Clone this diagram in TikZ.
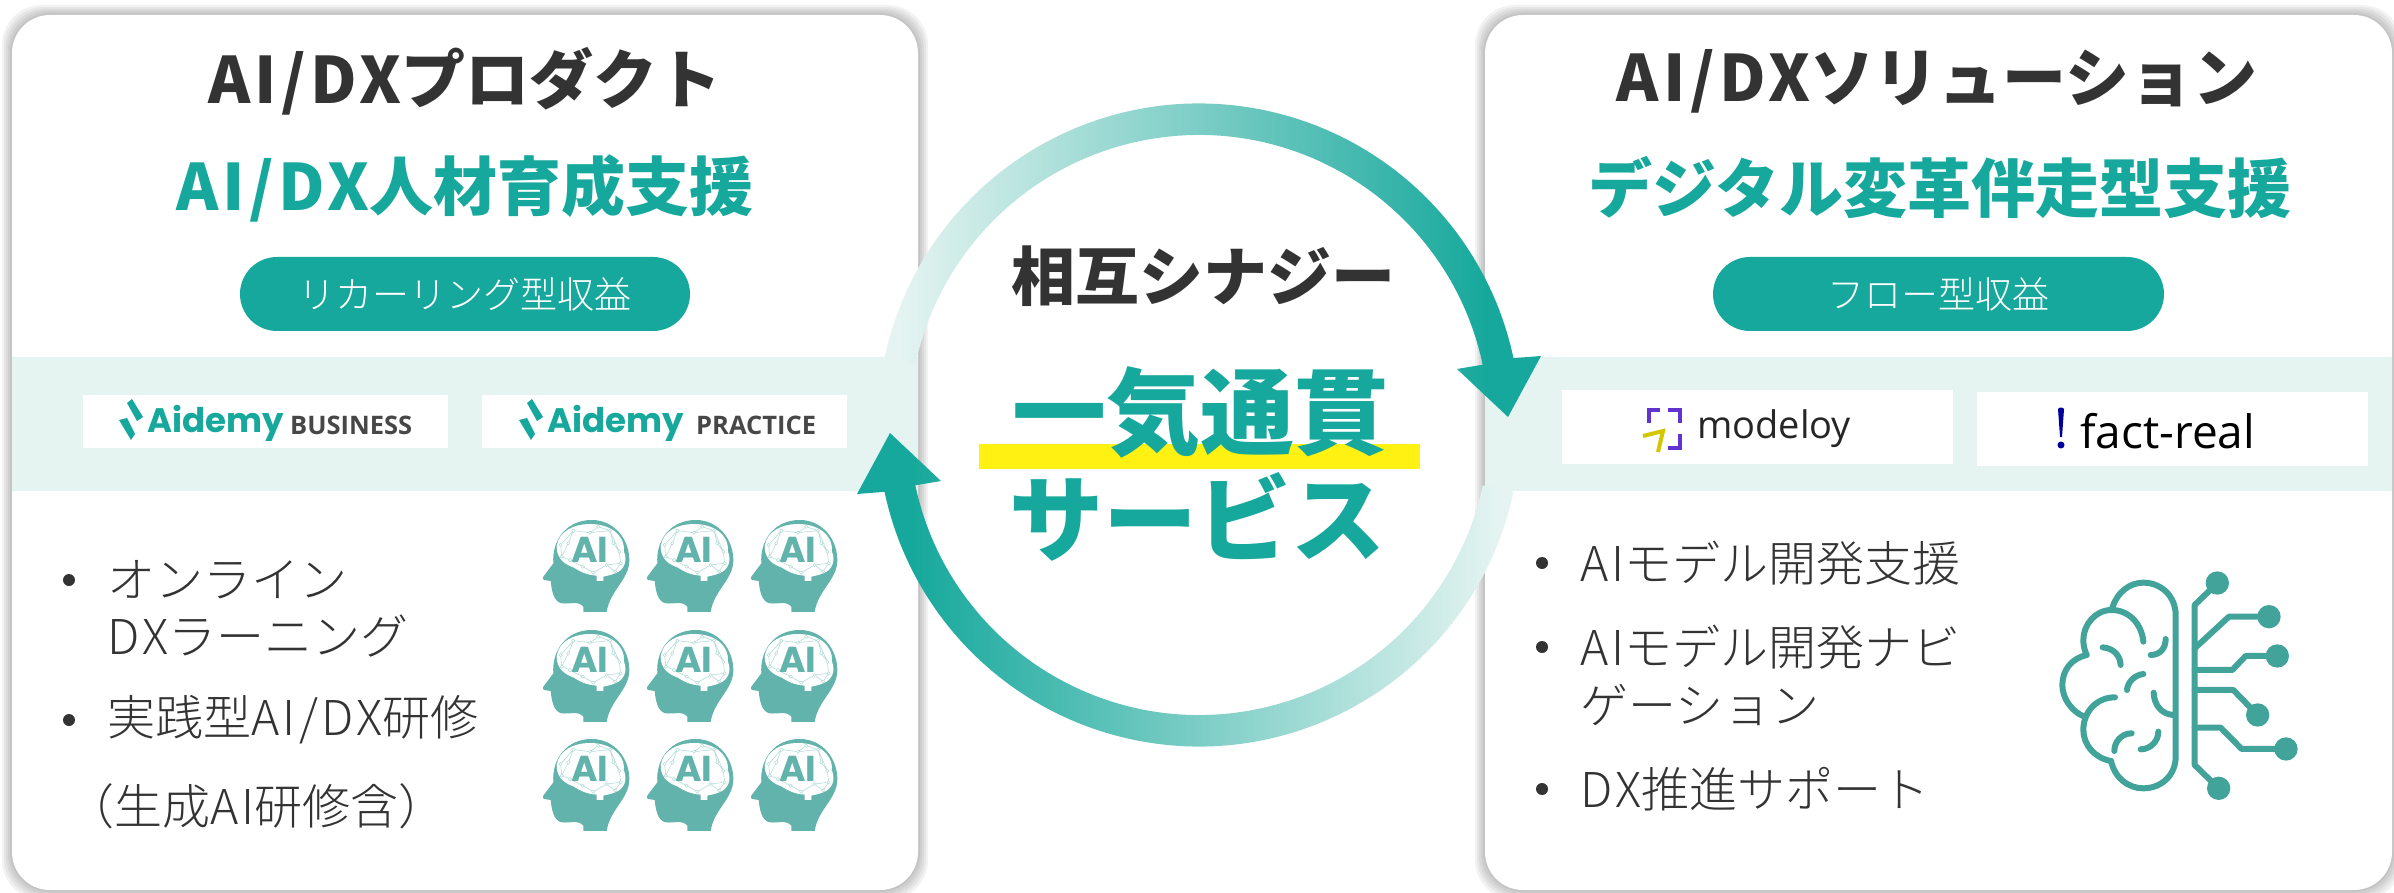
\documentclass[tikz,border=0pt]{standalone}
\usepackage{fontspec}
\setmainfont{Noto Sans CJK JP}
\newfontfamily\lightjp{Noto Sans CJK JP Light}
\newfontfamily\logofont{Poppins}
\newfontfamily\wordfont{Open Sans}
\definecolor{tealmain}{HTML}{16A89C}
\definecolor{tealband}{HTML}{E5F4F1}
\definecolor{tealhead}{HTML}{62B3AC}
\definecolor{tealnet}{HTML}{B5DCD8}
\definecolor{tealbrain}{HTML}{42A39A}
\definecolor{textdark}{HTML}{333333}
\definecolor{markyellow}{HTML}{FFF212}
\pgfdeclarehorizontalshading{ringright}{100bp}{color(0bp)=(tealband); color(26bp)=(tealband); color(71bp)=(tealmain); color(100bp)=(tealmain)}
\pgfdeclarehorizontalshading{ringleft}{100bp}{color(0bp)=(tealmain); color(29bp)=(tealmain); color(74bp)=(tealband); color(100bp)=(tealband)}
\newcommand{\widelat}[1]{{\addfontfeature{LetterSpace=7}#1}}
\tikzset{
    titletext/.style={inner sep=0pt, text=textdark, font=\fontsize{64}{70}\selectfont\bfseries},
    subtext/.style={inner sep=0pt, text=tealmain, font=\fontsize{64}{70}\selectfont\bfseries},
    bigtext/.style={inner sep=0pt, text=tealmain, font=\fontsize{94}{100}\selectfont\bfseries},
    listtext/.style={inner sep=0pt, anchor=west, text=textdark, font=\fontsize{48}{52}\selectfont\lightjp},
    pillbox/.style={fill=tealmain, rounded corners=37pt, minimum height=74pt, inner sep=0pt, text=white, font=\fontsize{37}{40}\selectfont\lightjp},
    logobox/.style={fill=white, inner sep=0pt},
    brainline/.style={tealbrain, line width=6pt, line cap=round, line join=round},
    aihead/.pic={
        \begin{scope}[x=0.3333pt, y=-0.3333pt]
            \fill[tealhead] (230,306) -- (160,306) -- (160,290) .. controls (145,272) and (120,283) .. (95,280) .. controls (70,275) and (65,240) .. (62,213) -- (42,210) .. controls (38,208) and (38,203) .. (40,200) -- (70,160) .. controls (65,90) and (110,30) .. (185,30) .. controls (255,30) and (298,90) .. (298,150) .. controls (298,210) and (240,240) .. (230,306) -- cycle;
            \fill[white] (80,110) .. controls (85,65) and (130,42) .. (180,42) .. controls (235,42) and (285,70) .. (282,125) .. controls (292,150) and (285,180) .. (255,190) .. controls (240,197) and (225,198) .. (220,200) -- (220,213) -- (200,213) -- (200,197) .. controls (170,195) and (150,185) .. (130,172) .. controls (110,165) and (80,150) .. (80,110) -- cycle;
            \draw[tealnet, line width=0.6pt] (95,140) -- (92,105) -- (130,62) -- (180,68) -- (240,62) -- (268,125) -- (272,160) -- (230,165) -- (190,188) -- (158,170) -- (120,150) -- cycle (130,62) -- (115,100) -- (95,140) (240,62) -- (250,100) -- (268,125) (180,68) -- (205,50) -- (240,62) (230,165) -- (255,185) -- (272,160);
            \foreach \p/\q in {95/140, 92/105, 130/62, 180/68, 240/62, 268/125, 272/160, 230/165, 190/188, 158/170, 120/150, 115/100, 250/100, 205/50, 255/185} {
                \draw[tealnet, fill=white, line width=0.5pt] (\p,\q) circle (5);
            }
            \node[inner sep=0pt, text=tealhead, font=\fontsize{36}{36}\selectfont\logofont\bfseries] at (180,120) {AI};
        \end{scope}
    }
}

\begin{document}
\begin{tikzpicture}[x=1pt, y=-1pt]
    \useasboundingbox (0,0) rectangle (2394,893);

    % Panel shadows
    \foreach \x/\y in {12/918, 1485/2392} {
      \foreach \s in {10,8,6,4,2,0} {
        \fill[black, opacity=0.05, rounded corners=40pt] (\x-\s,15-\s) rectangle (\y+\s,890+\s);
      }
      \fill[white, rounded corners=38pt] (\x,15) rectangle (\y,890);
      % Logo band
      \fill[tealband] (\x,357) rectangle (\y,491);
    }

    % Titles
    \node (titleL) [titletext] at (465,81) {\widelat{AI/DX}プロダクト};
    \node (titleR) [titletext] at (1937,81) {\widelat{AI/DX}ソリューション};
    \node (subL) [subtext] at (465,188) {\widelat{AI/DX}人材育成支援};
    \node (subR) [subtext] at (1940,188) {デジタル変革伴走型支援};
    \node (pillL) [pillbox, minimum width=450pt] at (465,294) {リカーリング型収益};
    \node (pillR) [pillbox, minimum width=451pt] at (1938.5,294) {フロー型収益};

    % Logo boxes
    \node (boxA) [logobox, minimum width=365pt, minimum height=53pt] at (265.5,421.5) {};
    \node (boxB) [logobox, minimum width=365pt, minimum height=53pt] at (664.5,421.5) {};
    \node (boxC) [logobox, minimum width=391pt, minimum height=74pt] at (1757.5,427) {};
    \node (boxD) [logobox, minimum width=391pt, minimum height=74pt] at (2172,429) {};

    % Aidemy logos
    \foreach \x/\w/\t in {0/BUSINESS/290, 400/PRACTICE/696} {
      \fill[tealmain] (\x+127,403) -- (\x+132,399) -- (\x+143,417) -- (\x+137,421) -- cycle;
      \fill[tealmain] (\x+119,420) -- (\x+127,418) -- (\x+135,434) -- (\x+131,440) -- cycle;
      \node[inner sep=0pt, anchor=west, text=tealmain, font=\fontsize{34}{40}\selectfont\logofont\bfseries] at (\x+147,423) {Aidemy};
      \node[inner sep=0pt, anchor=west, text=textdark!90, font=\fontsize{25.5}{28}\selectfont\wordfont\bfseries] at (\t,425) {\w};
    }

    % modeloy logo
    \draw[blue!55!violet!80, line width=4pt] (1649,423) -- (1649,410) -- (1660,410);
    \draw[blue!55!violet!80, line width=4pt] (1668,410) -- (1680,410) -- (1680,423);
    \draw[blue!55!violet!80, line width=4pt] (1680,434) -- (1680,448) -- (1668,448);
    \draw[yellow!60!olive, line width=4pt] (1643,436) -- (1663,431) -- (1658,452);
    \node (modeloy) [inner sep=0pt, anchor=west, text=black!85, font=\fontsize{38}{40}\selectfont\wordfont] at (1697,429) {modeloy};

    % fact-real logo
    \fill[blue!60!black] (2058,409) .. controls (2059,407) and (2063,407) .. (2064,409) -- (2062,437) -- (2060,437) -- cycle;
    \fill[blue!60!black] (2061,445) circle (3.5);
    \node (factreal) [inner sep=0pt, anchor=west, text=black, font=\fontsize{46}{48}\selectfont\wordfont] at (2080,431) {fact-real};

    % Left list
    \foreach \y in {580,720} {
      \fill[textdark] (69,\y) circle (6);
    }
    \node (listA) [listtext] at (107,580) {オンライン};
    \node (listB) [listtext] at (107,636) {\widelat{DX}ラーニング};
    \node (listC) [listtext] at (107,720) {実践型\widelat{AI/DX}研修};
    \node (listD) [listtext] at (66,806) {（生成\widelat{AI}研修含）};

    % Heads
    \foreach \i/\x in {1/0, 2/104, 3/208} {
      \foreach \j/\y in {1/0, 2/110, 3/219} {
        \pic (head\i\j) at (530+\x,510+\y) {aihead};
      }
    }

    % Right list
    \foreach \y in {563,647,789} {
      \fill[textdark] (1542,\y) circle (6);
    }
    \node (listE) [listtext] at (1580,563) {\widelat{AI}モデル開発支援};
    \node (listF) [listtext] at (1580,647) {\widelat{AI}モデル開発ナビ};
    \node (listG) [listtext] at (1580,705) {ゲーション};
    \node (listH) [listtext] at (1580,789) {\widelat{DX}推進サポート};

    % Brain, left half
    \begin{scope}[shift={(2030,560)}, x=0.3333pt, y=-0.3333pt]
      \draw[brainline] (245,150) .. controls (260,95) and (300,68) .. (340,68) .. controls (395,68) and (437,110) .. (437,165) -- (437,590) .. controls (437,645) and (395,685) .. (340,685) .. controls (295,685) and (255,655) .. (243,603);
      \draw[brainline] (340,245) .. controls (335,190) and (295,150) .. (245,150) .. controls (195,150) and (160,195) .. (160,240) .. controls (160,255) and (163,270) .. (170,285);
      \draw[brainline] (170,285) .. controls (125,295) and (97,330) .. (97,375) .. controls (97,415) and (125,455) .. (163,470);
      \draw[brainline] (255,412) .. controls (200,412) and (160,455) .. (160,510) .. controls (160,555) and (195,595) .. (243,603);
      \draw[brainline] (218,262) .. controls (250,265) and (270,285) .. (272,315);
      \draw[brainline] (291,390) .. controls (293,365) and (315,345) .. (340,342);
      \draw[brainline] (362,285) .. controls (390,285) and (407,265) .. (407,237);
      \draw[brainline] (371,398) .. controls (372,435) and (395,463) .. (430,465);
      \draw[brainline] (253,573) .. controls (253,545) and (275,520) .. (305,520);
      \draw[brainline] (332,568) .. controls (360,568) and (385,545) .. (385,515);
      % Brain, circuit half
      \draw[brainline] (562,69) -- (494,135) -- (494,615) -- (566,685);
      \draw[brainline] (494,265) -- (597,170) -- (717,170);
      \draw[brainline] (494,330) -- (607,330) -- (647,288) -- (742,288);
      \draw[brainline] (494,390) -- (610,390) -- (683,465);
      \draw[brainline] (494,503) -- (572,503) -- (635,567) -- (768,567);
      \foreach \p/\q in {562/69, 717/170, 742/288, 683/465, 768/567, 566/685} {
        \fill[tealbrain] (\p,\q) circle (35);
      }
    \end{scope}

    % Centre text
    \fill[markyellow] (979,444) rectangle (1420,469);
    \node (synergy) [inner sep=0pt, text=textdark, font=\fontsize{64}{70}\selectfont\bfseries] at (1203,276) {相互シナジー};
    \node (oneline) [bigtext] at (1200,412) {一気通貫};
    \node (service) [bigtext] at (1197,517) {サービス};

    % Ring arrows
    \coordinate (ringc) at (1199,425);
    \shade[shading=ringright] ([shift={(192:321.5)}]ringc) arc[start angle=192, end angle=348, radius=321.5] -- (1541,356) -- (1508,417) -- (1457,369) -- ([shift={(348:290)}]ringc) arc[start angle=348, end angle=192, radius=290] -- cycle;
    \shade[shading=ringleft] ([shift={(12:321.5)}]ringc) arc[start angle=12, end angle=168, radius=321.5] -- (857,494) -- (890,433) -- (941,481) -- ([shift={(168:290)}]ringc) arc[start angle=168, end angle=12, radius=290] -- cycle;
\end{tikzpicture}
\end{document}
